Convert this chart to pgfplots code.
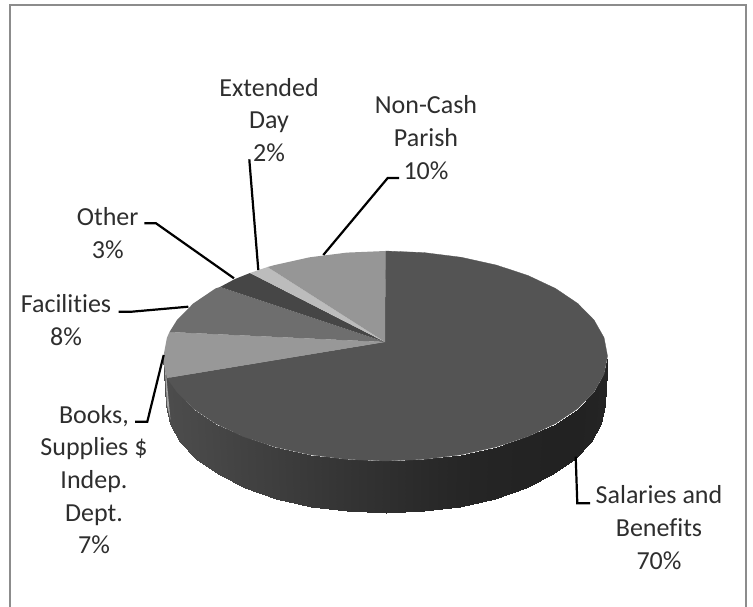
\documentclass[border=0pt]{standalone}
\usepackage{fontspec}
\setmainfont[Ligatures=NoCommon]{Carlito}
\usepackage{pgfplots}
\pgfplotsset{compat=1.18}
\tikzset{lab/.style={font=\fontsize{26}{32.6}\selectfont,text=black!82,align=center,anchor=center,inner sep=0pt},
  lead/.style={black,line width=2.2pt,line join=miter}}
\begin{document}
\begin{tikzpicture}
\begin{axis}[width=753pt,height=607pt,scale only axis,xmin=0,xmax=753,ymin=0,ymax=607,y dir=reverse,hide axis,clip=true,
  colormap={gr}{gray(0)=(0) gray(255)=(1)},point meta min=0,point meta max=255]
\path (axis cs:0,0) rectangle (axis cs:753,607);
% frame
\addplot[color={rgb,255:red,140;green,140;blue,140},line width=2.6pt] coordinates {(10,607) (10,5) (746,5) (746,607)};
% side of the pie, front wall
\addplot[patch,patch type=rectangle,shader=interp,point meta=explicit] table[meta=c] {
x y c
607.5 356 36
604.1 374.2 36
601.2 423.8 36
604.5 405 36
604.1 374.2 36
594.1 391.9 35
591.3 441.9 35
601.2 423.8 36
594.1 391.9 35
577.8 408.5 34
575.2 459 34
591.3 441.9 35
577.8 408.5 34
555.6 423.5 34
553.3 474.4 34
575.2 459 34
555.6 423.5 34
528.2 436.4 35
526.3 487.7 35
553.3 474.4 34
528.2 436.4 35
496.5 446.9 36
495 498.5 36
526.3 487.7 35
496.5 446.9 36
461.4 454.7 38
460.4 506.5 38
495 498.5 36
461.4 454.7 38
424.1 459.4 42
423.6 511.4 42
460.4 506.5 38
424.1 459.4 42
385.5 461 47
385.5 513 47
423.6 511.4 42
385.5 461 47
346.9 459.4 52
347.4 511.4 52
385.5 513 47
346.9 459.4 52
309.6 454.7 57
310.6 506.5 57
347.4 511.4 52
309.6 454.7 57
274.5 446.9 62
276 498.5 62
310.6 506.5 57
274.5 446.9 62
242.8 436.4 66
244.7 487.7 66
276 498.5 62
242.8 436.4 66
215.4 423.5 70
217.7 474.4 70
244.7 487.7 66
215.4 423.5 70
193.2 408.5 73
195.8 459 73
217.7 474.4 70
193.2 408.5 73
176.9 391.9 75
179.7 441.9 75
195.8 459 73
176.9 391.9 75
166.9 374.2 76
169.8 423.8 76
179.7 441.9 75
166.9 374.2 76
163.5 356 76
166.5 405 76
169.8 423.8 76
};
% light rim
\addplot[fill=black!35,draw=none] coordinates {(164.5,362)(166.5,378)(170.5,420)(167,405)} --cycle;
% top faces
\addplot[fill={rgb,255:red,84;green,84;blue,84},draw={rgb,255:red,84;green,84;blue,84},line width=0.3pt] coordinates {(385,342)(385.5,251)(424.1,252.6)(461.4,257.3)(496.5,265.1)(528.2,275.6)(555.6,288.5)(577.8,303.5)(594.1,320.1)(604.1,337.8)(607.5,356)(604.1,374.2)(594.1,391.9)(577.8,408.5)(555.6,423.5)(528.2,436.4)(496.5,446.9)(461.4,454.7)(424.1,459.4)(385.5,461)(346.9,459.4)(309.6,454.7)(274.5,446.9)(242.8,436.4)(215.4,423.5)(193.2,408.5)(176.9,391.9)(167,378)} --cycle;
\addplot[fill={rgb,255:red,152;green,152;blue,152},draw=none] coordinates {(385,342)(169.5,332)(166.9,337.8)(163.5,356)(164,365)(167,378)} --cycle;
\addplot[fill={rgb,255:red,110;green,110;blue,110},draw=none] coordinates {(385,342)(220,287)(215.4,288.5)(193.2,303.5)(176.9,320.1)(169.5,332)} --cycle;
\addplot[fill={rgb,255:red,70;green,70;blue,70},draw=none] coordinates {(385,342)(250,273)(235,279)(220,287)} --cycle;
\addplot[fill={rgb,255:red,188;green,188;blue,188},draw=none] coordinates {(385,342)(267.5,267)(250,273)} --cycle;
\addplot[fill={rgb,255:red,150;green,150;blue,150},draw=none] coordinates {(385,342)(385.5,251)(346.9,252.6)(309.6,257.3)(274.5,265.1)(267.5,267)} --cycle;
% leader lines
\addplot[lead] coordinates {(575.7,456.7)(577.3,503.3)(590,503.3)};
\addplot[lead] coordinates {(163.7,355)(147.3,421.7)(135,421.7)};
\addplot[lead] coordinates {(118.7,311.7)(131.7,311.7)(188.3,306.7)};
\addplot[lead] coordinates {(144.3,223.3)(156,223.3)(234,278.3)};
\addplot[lead] coordinates {(249.3,159.3)(258.3,270)};
\addplot[lead] coordinates {(399,178)(387.7,178)(323.3,255)};
% labels
\node[lab] at (axis cs:269,120) {Extended\\Day\\2\%};
\node[lab] at (axis cs:426,137.5) {Non-Cash\\Parish\\10\%};
\node[lab] at (axis cs:107.7,233) {Other\\3\%};
\node[lab] at (axis cs:66,320) {Facilities\\8\%};
\node[lab] at (axis cs:94,479.5) {Books,\\Supplies \$\\Indep.\\Dept.\\7\%};
\node[lab] at (axis cs:659,527.5) {Salaries and\\Benefits\\70\%};
\end{axis}
\end{tikzpicture}
\end{document}
